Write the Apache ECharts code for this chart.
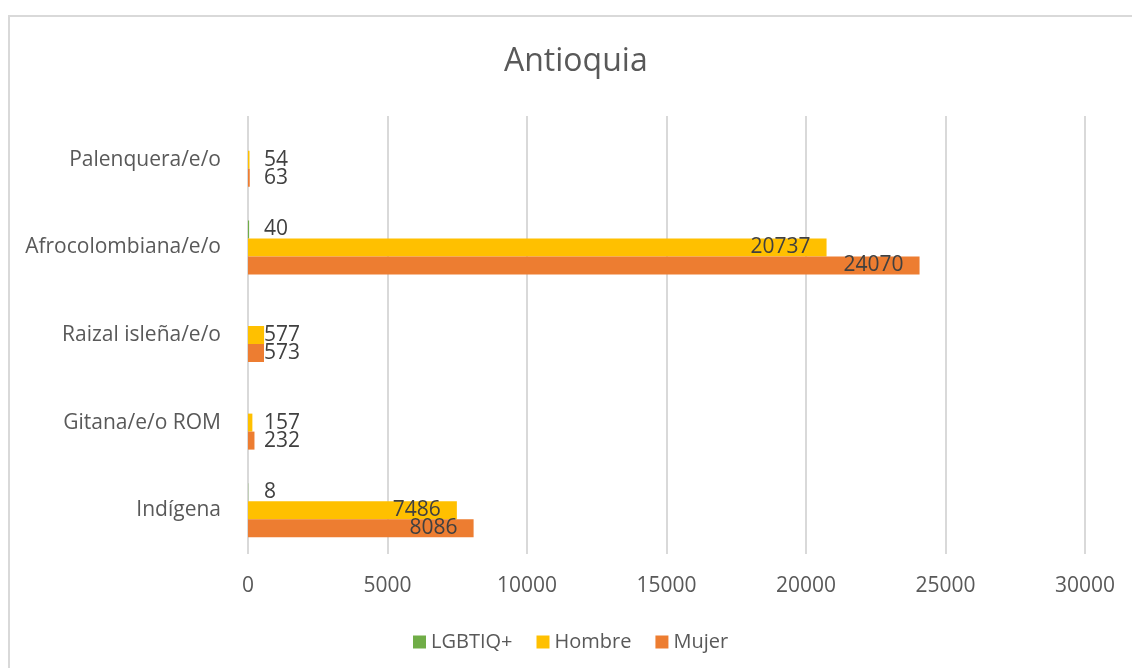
<!DOCTYPE html>
<html>
<head>
<meta charset="utf-8">
<script src="https://cdn.jsdelivr.net/npm/echarts@6/dist/echarts.min.js"></script>
<style>
  html, body { margin: 0; padding: 0; background: #fff; }
  #main { width: 1132px; height: 668px; }
</style>
</head>
<body>
<div id="main"></div>
<script>
  // categorias, de abajo hacia arriba
  const categories = ['Indígena', 'Gitana/e/o ROM', 'Raizal isleña/e/o', 'Afrocolombiana/e/o', 'Palenquera/e/o'];
  const lgbtiq = [8, null, null, 40, null];
  const hombre = [7486, 157, 577, 20737, 54];
  const mujer = [8086, 232, 573, 24070, 63];
  const xTicks = [0, 5000, 10000, 15000, 20000, 25000, 30000];

  const font = '"Open Sans", sans-serif';
  const myChart = echarts.init(document.getElementById('main'));

  // etiqueta dentro del final si cabe, si no a la derecha del eje
  function withLabels(values) {
    return values.map((v) => {
      if (v === null) {
        return { value: null, label: { show: false } };
      }
      if (v > 2000) {
        return { value: v, label: { position: 'insideRight', distance: 16 } };
      }
      return { value: v, label: { position: 'insideLeft', distance: 16 } };
    });
  }

  const labelStyle = {
    show: true,
    color: '#404040',
    fontSize: 21,
    fontFamily: font,
  };

  myChart.setOption({
    animation: false,
    backgroundColor: '#fff',
    graphic: [{
      type: 'rect',
      shape: { x: 9, y: 16, width: 1200, height: 700 },
      style: { fill: 'none', stroke: '#d9d9d9', lineWidth: 2 },
      silent: true,
    }],
    title: {
      text: 'Antioquia',
      left: 499,
      top: 41,
      textStyle: {
        color: '#595959',
        fontSize: 32,
        fontWeight: 'normal',
        fontFamily: font,
      },
    },
    legend: {
      data: ['LGBTIQ+', 'Hombre', 'Mujer'],
      left: 408,
      top: 627,
      itemWidth: 13,
      itemHeight: 13,
      itemGap: 24,
      icon: 'rect',
      textStyle: {
        color: '#595959',
        fontSize: 20,
        fontFamily: font,
      },
    },
    grid: {
      left: 248,
      right: 47,
      top: 116,
      height: 438,
      containLabel: false,
    },
    xAxis: {
      type: 'value',
      min: xTicks[0],
      max: xTicks[xTicks.length - 1],
      interval: 5000,
      axisLine: { show: false },
      axisTick: { show: false },
      splitLine: { lineStyle: { color: '#d9d9d9', width: 2 } },
      axisLabel: {
        margin: 22,
        color: '#595959',
        fontSize: 21,
        fontFamily: font,
        formatter: (v) => String(v),
      },
    },
    yAxis: {
      type: 'category',
      data: categories,
      axisLine: { show: false },
      axisTick: { show: false },
      axisLabel: {
        margin: 27,
        color: '#595959',
        fontSize: 21,
        fontFamily: font,
      },
    },
    series: [
      {
        name: 'LGBTIQ+',
        type: 'bar',
        barWidth: 18,
        barGap: '0%',
        itemStyle: { color: '#70AD47' },
        label: labelStyle,
        data: withLabels(lgbtiq),
      },
      {
        name: 'Hombre',
        type: 'bar',
        barWidth: 18,
        barGap: '0%',
        itemStyle: { color: '#FFC000' },
        label: labelStyle,
        data: withLabels(hombre),
      },
      {
        name: 'Mujer',
        type: 'bar',
        barWidth: 18,
        barGap: '0%',
        itemStyle: { color: '#ED7D31' },
        label: labelStyle,
        data: withLabels(mujer),
      },
    ],
  });
</script>
</body>
</html>
